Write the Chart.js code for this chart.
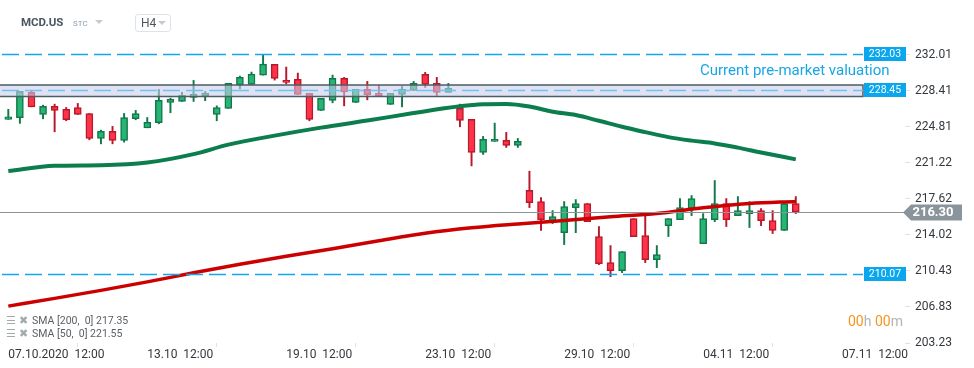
<!DOCTYPE html>
<html><head><meta charset="utf-8">
<script src="https://cdn.jsdelivr.net/npm/chart.js@4"></script>
<style>
html,body{margin:0;padding:0;background:#fff;}
#wrap{position:relative;width:974px;height:368px;font-family:Roboto,"Noto Sans",sans-serif;overflow:hidden;}
#c{position:absolute;left:0;top:0;}
.abs{position:absolute;white-space:pre;}
.sym{left:21px;top:15px;font-weight:700;font-size:11.5px;color:#4b5660;}
.stc{left:73px;top:19px;font-size:8px;color:#8c9eac;}
.tri{width:0;height:0;border-left:4px solid transparent;border-right:4px solid transparent;border-top:4px solid #c5cbd0;}
.h4box{left:135px;top:14px;width:34px;height:16px;border:1px solid #dfe3e7;border-radius:3px;}
.h4{left:141px;top:16px;font-size:12px;color:#4b5660;}
.leg{left:6px;font-size:10.5px;color:#5a5f64;}
.leg .ic{color:#a4a9ad;font-size:11px;display:inline-block;width:26px;}
.timer{left:848px;top:313px;font-size:14px;}
.timer .o{color:#f7941d;} .timer .g{color:#b0b4b8;}
</style></head>
<body>
<div id="wrap">
<canvas id="c" width="974" height="368"></canvas>
<div class="abs sym">MCD.US</div>
<div class="abs stc">STC</div>
<div class="abs tri" style="left:95px;top:20px;"></div>
<div class="abs h4box"></div>
<div class="abs h4">H4</div>
<div class="abs tri" style="left:158px;top:21px;"></div>
<div class="abs leg" id="leg1" style="top:314px;"></div>
<div class="abs leg" id="leg2" style="top:327px;"></div>
<div class="abs timer"><span class="o">00</span><span class="g">h </span><span class="o">00</span><span class="g">m</span></div>
</div>
<script>
// ---- data ----
const opens  = [225.54,225.70,228.23,226.03,226.83,226.54,226.73,226.13,223.64,224.34,223.44,225.60,224.70,225.20,227.23,227.33,227.73,227.89,226.03,226.64,228.99,229.03,229.96,231.03,229.43,229.53,228.13,226.44,227.43,229.63,227.23,228.53,228.13,227.03,228.03,228.43,230.03,229.13,228.23,226.64,225.54,222.24,223.34,223.44,222.94,218.47,217.34,215.44,214.24,216.74,217.14,213.85,211.25,210.45,215.64,213.95,211.55,214.94,215.54,216.64,213.15,215.54,217.14,215.94,216.14,216.44,215.44,214.45,217.14];
const highs  = [226.54,228.33,228.36,226.96,227.06,226.73,227.13,226.13,224.47,224.84,226.13,226.44,225.73,228.53,227.66,228.23,229.43,228.33,226.89,229.13,229.86,230.26,231.99,231.03,230.76,230.16,228.13,227.63,229.96,229.73,228.53,229.33,228.93,228.13,228.83,229.33,230.23,229.73,229.13,227.06,225.54,223.84,225.17,224.24,223.64,220.37,217.74,216.44,217.34,217.54,217.14,214.85,212.95,212.35,215.64,216.14,212.95,215.64,217.64,217.94,216.14,219.44,217.64,217.84,217.34,216.64,216.44,217.14,217.84];
const lows   = [225.54,225.14,226.79,225.60,224.30,225.40,226.03,223.50,223.10,223.10,223.27,225.50,224.70,225.10,226.20,227.33,227.33,227.40,225.40,226.64,228.59,229.03,229.96,229.46,229.09,228.03,225.40,226.44,227.19,226.89,227.23,227.49,227.89,227.03,226.79,228.43,228.73,227.93,228.23,224.80,220.90,222.04,223.34,222.74,222.74,216.74,214.45,215.14,213.05,214.24,215.34,211.05,209.85,210.25,213.85,211.25,210.75,213.85,215.54,215.94,213.15,215.34,214.85,215.94,214.75,214.94,214.15,214.45,216.14];
const closes = [225.80,228.33,226.79,226.83,226.44,225.50,226.03,223.64,224.34,223.44,225.73,226.13,225.24,227.43,227.53,227.93,228.06,228.16,226.73,229.13,229.73,230.06,231.06,229.63,229.23,228.03,225.54,227.63,229.63,228.29,228.53,228.00,227.89,228.13,228.53,229.13,229.03,228.23,228.63,225.44,222.24,223.54,223.54,222.94,223.34,217.24,215.54,215.84,216.84,217.14,215.34,211.15,210.45,212.35,213.85,211.55,212.05,215.64,216.74,217.64,215.64,217.14,215.54,216.44,216.44,215.44,214.45,217.14,216.30];

const sma50Slots = [0,4,8,12,16,19,23,27,31,35,39,41,43,45,47,49,51,53,55,57,59,61,63,65,68];
const sma50      = [220.40,220.91,220.97,221.23,222.07,223.02,223.92,224.72,225.42,226.17,226.84,227.04,227.07,226.82,226.30,225.97,225.40,224.80,224.27,223.77,223.42,223.14,222.72,222.24,221.55];
const sma200Slots = [0,4,8,12,16,20,24,28,32,36,40,44,48,52,56,60,64,68];
const sma200      = [206.91,207.68,208.48,209.33,210.23,211.08,211.88,212.63,213.43,214.18,214.72,215.10,215.44,215.82,216.14,216.72,217.14,217.35];

const xTickSlots  = [0,12,24,36,48,60,72];
const xTickLabels = ["07.10.2020  12:00","13.10  12:00","19.10  12:00","23.10  12:00","29.10  12:00","04.11  12:00","07.11  12:00"];
const yTickValues = [232.01,228.41,224.81,221.22,217.62,214.02,210.43,206.83,203.23];

const levelValues = [232.03, 228.45, 210.07];
const bandRange   = [227.83, 228.96];
const bandCaption = "Current pre-market valuation";
const legendRows  = [["SMA [200,  0]", 217.35], ["SMA [50,  0]", 221.55]];

// ---- build ----
const GREEN='#26b574', GREEN_B='#12784a', RED='#ff3347', RED_B='#b8182c';
const up = closes.map((c,i)=>c>=opens[i]);
const bodies = opens.map((o,i)=>({x:i, y:[o, closes[i]]}));
const wicks  = highs.map((h,i)=>({x:i, y:[lows[i], h]}));
const lastClose = closes[closes.length-1];

document.getElementById('leg1').innerHTML = '<span class="ic">☰ ✖</span>' + legendRows[0][0] + ' ' + legendRows[0][1].toFixed(2);
document.getElementById('leg2').innerHTML = '<span class="ic">☰ ✖</span>' + legendRows[1][0] + ' ' + legendRows[1][1].toFixed(2);

const levelsPlugin = {
  id:'levels',
  afterDatasetsDraw(chart){
    const {ctx, chartArea:a, scales:{y}} = chart;
    const boxW = 42, endX = a.right - boxW;
    ctx.save();
    // price line
    const yp = Math.round(y.getPixelForValue(lastClose))+0.5;
    ctx.strokeStyle='#8a959b'; ctx.lineWidth=1.2;
    ctx.beginPath(); ctx.moveTo(a.left,yp); ctx.lineTo(a.right,yp); ctx.stroke();
    // band
    const yb1 = y.getPixelForValue(bandRange[1]), yb2 = y.getPixelForValue(bandRange[0]);
    ctx.fillStyle='rgba(200,205,234,0.58)';
    ctx.fillRect(a.left, yb1, endX-a.left, yb2-yb1);
    ctx.strokeStyle='#4e5c66'; ctx.lineWidth=1.5;
    ctx.beginPath(); ctx.moveTo(a.left,yb1); ctx.lineTo(endX,yb1); ctx.lineTo(endX,yb2); ctx.lineTo(a.left,yb2); ctx.stroke();
    // dashed levels
    levelValues.forEach((v,i)=>{
      const py = Math.round(y.getPixelForValue(v))+0.5;
      ctx.strokeStyle = i===1 ? '#6fc3ef' : '#12a6ec';
      ctx.lineWidth = 1.5;
      ctx.setLineDash([17,6]);
      ctx.beginPath(); ctx.moveTo(a.left+2,py); ctx.lineTo(endX,py); ctx.stroke();
      ctx.setLineDash([]);
      ctx.fillStyle='#0aa6ee';
      ctx.fillRect(endX+1, py-7.5, boxW, 14);
      ctx.fillStyle='#fff'; ctx.font='10.5px Roboto'; ctx.textAlign='center'; ctx.textBaseline='middle';
      ctx.fillText(v.toFixed(2), endX+1+boxW/2, py);
    });
    // caption
    ctx.fillStyle='#18a6e4'; ctx.font='15px Roboto'; ctx.textAlign='left'; ctx.textBaseline='middle';
    const yc = y.getPixelForValue(bandRange[1]) - 14;
    ctx.fillText(bandCaption, a.right-205, yc);
    // price label
    ctx.fillStyle='#8a959b';
    ctx.beginPath();
    ctx.moveTo(a.right-2, yp);
    ctx.lineTo(a.right+6, yp-8);
    ctx.lineTo(a.right+57, yp-8);
    ctx.lineTo(a.right+57, yp+8);
    ctx.lineTo(a.right+6, yp+8);
    ctx.closePath(); ctx.fill();
    ctx.fillStyle='#fff'; ctx.font='bold 13px Roboto'; ctx.textAlign='center';
    ctx.fillText(lastClose.toFixed(2), a.right+28, yp+0.5);
    ctx.restore();
  }
};

new Chart(document.getElementById('c'), {
  type:'bar',
  data:{datasets:[
    {type:'line', data: sma50Slots.map((s,i)=>({x:s,y:sma50[i]})), borderColor:'#0c7d4c', borderWidth:4, pointRadius:0, cubicInterpolationMode:'monotone', order:0},
    {type:'line', data: sma200Slots.map((s,i)=>({x:s,y:sma200[i]})), borderColor:'#cc0000', borderWidth:3.5, pointRadius:0, cubicInterpolationMode:'monotone', order:0},
    {data: bodies, backgroundColor: up.map(u=>u?GREEN:RED), borderColor: up.map(u=>u?GREEN_B:RED_B), borderWidth:1.5, borderSkipped:false, barThickness:7, grouped:false, order:1},
    {data: wicks, backgroundColor: up.map(u=>u?GREEN_B:RED_B), borderWidth:0, barThickness:1.3, grouped:false, order:2}
  ]},
  options:{
    responsive:false, animation:false, devicePixelRatio:1,
    layout:{padding:{top:40,left:0,right:0,bottom:0}},
    plugins:{legend:{display:false}, tooltip:{enabled:false}},
    scales:{
      x:{type:'linear', min:-0.717, max:77.43, offset:false,
        grid:{display:true, drawOnChartArea:false, drawTicks:true, tickLength:4, tickColor:'#e2e2e2'},
        border:{display:false},
        afterBuildTicks:s=>{ s.ticks = xTickSlots.map(v=>({value:v})); },
        afterFit:s=>{ s.height = 25; },
        ticks:{autoSkip:false, maxRotation:0, minRotation:0, align:'start', padding:1, color:'#33383d', font:{family:'Roboto', size:12},
          callback:(v,i)=>xTickLabels[i]}
      },
      y:{position:'right', min:203.23, max:233.46,
        grid:{display:true, drawOnChartArea:false, drawTicks:true, tickLength:5, tickColor:'#e2e2e2'},
        border:{display:false},
        afterBuildTicks:s=>{ s.ticks = yTickValues.map(v=>({value:v})); },
        afterFit:s=>{ s.width = 69; },
        ticks:{padding:5, color:'#33383d', font:{family:'Roboto', size:12}, callback:v=>v.toFixed(2)}
      }
    }
  },
  plugins:[levelsPlugin]
});
</script>
</body></html>
